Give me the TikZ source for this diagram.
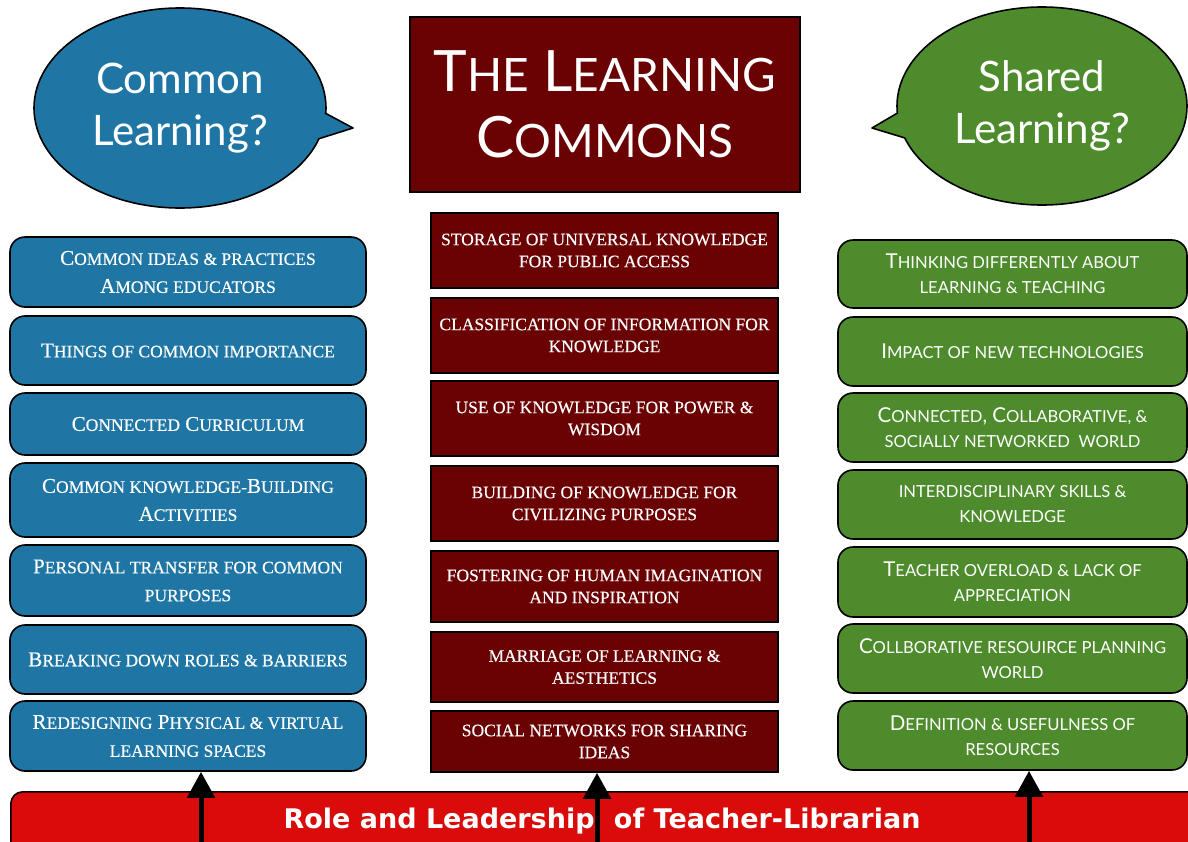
\documentclass[tikz,border=0pt]{standalone}
\usepackage{fontspec}
\setmainfont{Liberation Serif}[FakeBold=0.35]
\newfontfamily\gill{Lato}
\newfontfamily\barfont{DejaVu Sans}
\usetikzlibrary{shapes.geometric,arrows.meta}

\definecolor{bluefill}{HTML}{1F76A4}
\definecolor{maroon}{HTML}{6A0204}
\definecolor{greenfill}{HTML}{4E8B2C}
\definecolor{barred}{HTML}{D90B0B}

% fake small caps for the three columns and the title
\newcommand\lsc[1]{{\fontsize{17.5}{28}\selectfont\MakeUppercase{#1}}}
\newcommand\rsc[1]{{\fontsize{16.6}{25}\selectfont\MakeUppercase{#1}}}
\newcommand\tsc[1]{{\fontsize{46}{66}\selectfont\MakeUppercase{#1}}}

\tikzset{
  colbox/.style={draw=black, line width=1.6pt, text=white, align=center, inner sep=0pt},
  lbox/.style={colbox, fill=bluefill, rounded corners=15pt, minimum width=356pt,
    font=\fontsize{21}{28}\selectfont},
  cbox/.style={colbox, fill=maroon, minimum width=347pt,
    font=\fontsize{17.5}{22}\selectfont},
  rbox/.style={colbox, fill=greenfill, rounded corners=15pt, minimum width=349pt,
    font=\gill\fontsize{20.5}{25}\selectfont},
  bubble/.style={ellipse, draw=black, line width=1.6pt, text=white, align=center,
    inner sep=0pt, font=\gill\fontsize{42}{52}\selectfont},
  uparrow/.style={line width=5pt, -{Triangle[width=27pt,length=26pt]}}
}

\begin{document}
\begin{tikzpicture}[x=1pt,y=-1pt]
\useasboundingbox (0,0) rectangle (1188,841);
\clip (0,0) rectangle (1188,841);

% speech bubbles
\node[bubble, fill=bluefill, minimum width=292pt, minimum height=200pt] (bubL) at (180,108)
  {Common\\Learning?};
\fill[bluefill] (325,113) -- (353,128) -- (318,139) -- (300,126) -- cycle;
\draw[line width=1.6pt, line join=round] (325,113) -- (353,128) -- (318,139);

\node[bubble, fill=greenfill, minimum width=290pt, minimum height=198pt] (bubR) at (1042,106)
  {Shared\\Learning?};
\fill[greenfill] (897.5,113) -- (872,128) -- (905,138) -- (920,126) -- cycle;
\draw[line width=1.6pt, line join=round] (897.5,113) -- (872,128) -- (905,138);

% title
\node[colbox, fill=maroon, minimum width=390pt, minimum height=175pt,
  font=\gill\fontsize{57}{66}\selectfont] (title) at (605,104.5)
  {T\tsc{he} L\tsc{earning}\\C\tsc{ommons}};

% left column
\node[lbox, minimum height=70pt] (l1) at (188,272)
  {C\lsc{ommon ideas \& practices}\\A\lsc{mong educators}};
\node[lbox, minimum height=69pt] (l2) at (188,350.5)
  {T\lsc{hings of common importance}};
\node[lbox, minimum height=62pt] (l3) at (188,424)
  {C\lsc{onnected} C\lsc{urriculum}};
\node[lbox, minimum height=74pt] (l4) at (188,500)
  {C\lsc{ommon knowledge-}B\lsc{uilding}\\A\lsc{ctivities}};
\node[lbox, minimum height=71pt] (l5) at (188,580.5)
  {P\lsc{ersonal transfer for common}\\\lsc{purposes}};
\node[lbox, minimum height=69pt] (l6) at (188,659.5)
  {B\lsc{reaking down roles \& barriers}};
\node[lbox, minimum height=70pt] (l7) at (188,736)
  {R\lsc{edesigning} P\lsc{hysical \& virtual}\\\lsc{learning spaces}};

% centre column
\node[cbox, minimum height=75pt] (c1) at (604.5,250.5)
  {STORAGE OF UNIVERSAL KNOWLEDGE\\FOR PUBLIC ACCESS};
\node[cbox, minimum height=75pt] (c2) at (604.5,335.5)
  {CLASSIFICATION OF INFORMATION FOR\\KNOWLEDGE};
\node[cbox, minimum height=75pt] (c3) at (604.5,418.5)
  {USE OF KNOWLEDGE FOR POWER \&\\WISDOM};
\node[cbox, minimum height=75pt] (c4) at (604.5,503.5)
  {BUILDING OF KNOWLEDGE FOR\\CIVILIZING PURPOSES};
\node[cbox, minimum height=71pt] (c5) at (604.5,586.5)
  {FOSTERING OF HUMAN IMAGINATION\\AND INSPIRATION};
\node[cbox, minimum height=70pt] (c6) at (604.5,667)
  {MARRIAGE OF LEARNING \&\\AESTHETICS};
\node[cbox, minimum height=61pt] (c7) at (604.5,741.5)
  {SOCIAL NETWORKS FOR SHARING\\IDEAS};

% right column
\node[rbox, minimum height=68pt] (r1) at (1012.5,274)
  {T\rsc{hinking differently about}\\\rsc{learning \& teaching}};
\node[rbox, minimum height=69pt] (r2) at (1012.5,351.5)
  {I\rsc{mpact of new technologies}};
\node[rbox, minimum height=69pt] (r3) at (1012.5,427.5)
  {C\rsc{onnected}, C\rsc{ollaborative, \&}\\\rsc{socially networked\ \ world}};
\node[rbox, minimum height=69pt] (r4) at (1012.5,504.5)
  {\rsc{interdisciplinary skills \&}\\\rsc{knowledge}};
\node[rbox, minimum height=70pt] (r5) at (1012.5,582)
  {T\rsc{eacher overload \& lack of}\\\rsc{appreciation}};
\node[rbox, minimum height=69pt] (r6) at (1012.5,658.5)
  {C\rsc{ollborative resouirce planning}\\\rsc{world}};
\node[rbox, minimum height=69pt] (r7) at (1012.5,735.5)
  {D\rsc{efinition \& usefulness of}\\\rsc{resources}};

% bottom bar
\node[draw=black, line width=1.6pt, fill=barred, rounded corners=12pt,
  minimum width=1200pt, minimum height=70pt, anchor=north west, inner sep=0pt] (bar) at (10,791) {};
\node[text=white, font=\barfont\bfseries\fontsize{27}{32}\selectfont, anchor=base] (bartext) at (602,828)
  {Role and Leadership\hspace{10pt} of Teacher-Librarian};

% arrows rising from the bar
\coordinate (aL) at (201,850);
\coordinate (aC) at (597,850);
\coordinate (aR) at (1029,850);
\draw[uparrow] (aL) -- (aL |- l7.south);
\draw[uparrow] (aC) -- (aC |- c7.south);
\draw[uparrow] (aR) -- (aR |- r7.south);
\end{tikzpicture}
\end{document}
